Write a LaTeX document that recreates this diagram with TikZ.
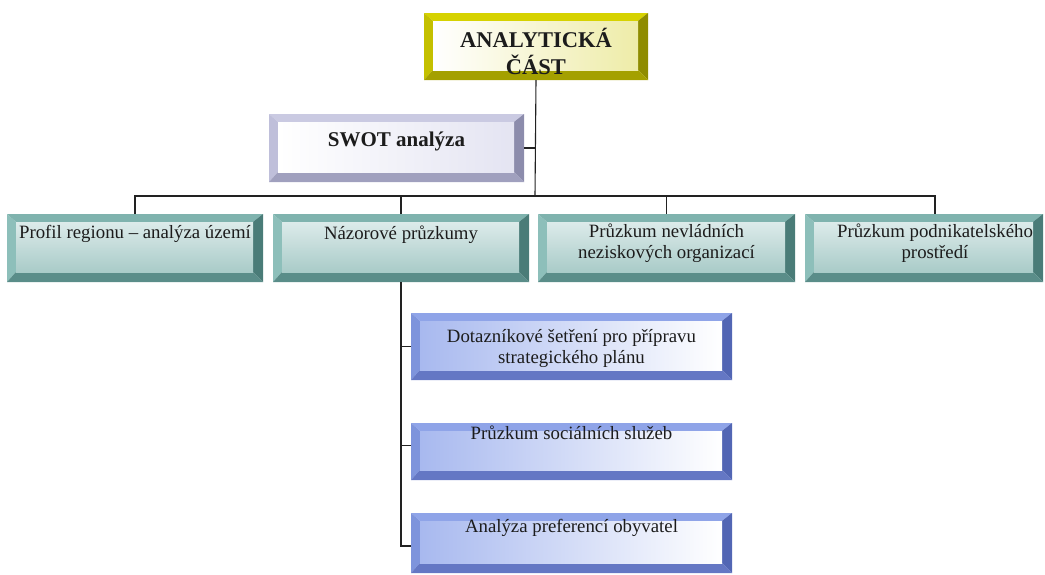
\documentclass[tikz,border=0pt]{standalone}
\usepackage{fontspec}
\setmainfont{Liberation Serif}
\definecolor{yelT}{HTML}{D6D200}
\definecolor{yelL}{HTML}{C4C000}
\definecolor{yelR}{HTML}{8F8C00}
\definecolor{yelB}{HTML}{A4A000}
\definecolor{yelI}{HTML}{EEECA8}
\definecolor{lavT}{HTML}{CACAE2}
\definecolor{lavL}{HTML}{BFBFDA}
\definecolor{lavR}{HTML}{8C8CAC}
\definecolor{lavB}{HTML}{A0A0BE}
\definecolor{lavI}{HTML}{E4E4F2}
\definecolor{tealT}{HTML}{7FB3AE}
\definecolor{tealL}{HTML}{8DBFBA}
\definecolor{tealR}{HTML}{4A7C78}
\definecolor{tealB}{HTML}{5A8D89}
\definecolor{tealI}{HTML}{A9CBC8}
\definecolor{tealI2}{HTML}{DCEBEA}
\definecolor{bluT}{HTML}{8FA4E8}
\definecolor{bluL}{HTML}{7E94DC}
\definecolor{bluR}{HTML}{5266B4}
\definecolor{bluB}{HTML}{6477C4}
\definecolor{bluI}{HTML}{A8B9EF}
\definecolor{ink}{HTML}{1C1C1C}
\definecolor{lineclr}{HTML}{222222}
\newcommand{\bxt}[4]{\parbox[c][#2][t]{#1}{\centering\rule{0pt}{#3}#4}}
\tikzset{
  yelIn/.style={shading=axis, shading angle=135, left color=white, right color=yelI},
  lavIn/.style={shading=axis, shading angle=120, left color=white, right color=lavI},
  tealIn/.style={shading=axis, shading angle=15, top color=tealI2, middle color=white, bottom color=tealI},
  bluIn/.style={shading=axis, shading angle=-30, left color=bluI, right color=white},
  bev/.style={inner sep=0pt, outer sep=0pt, text=ink,
    path picture={
      \coordinate (bvSW) at (path picture bounding box.south west);
      \coordinate (bvNE) at (path picture bounding box.north east);
      \coordinate (bvNW) at (path picture bounding box.north west);
      \coordinate (bvSE) at (path picture bounding box.south east);
      \coordinate (bvsw) at ([xshift=9pt,yshift=10pt]bvSW);
      \coordinate (bvne) at ([xshift=-10pt,yshift=-8pt]bvNE);
      \coordinate (bvnw) at ([xshift=9pt,yshift=-8pt]bvNW);
      \coordinate (bvse) at ([xshift=-10pt,yshift=10pt]bvSE);
      \fill[#1T] (bvNW) -- (bvNE) -- (bvne) -- (bvnw) -- cycle;
      \fill[#1L] (bvNW) -- (bvnw) -- (bvsw) -- (bvSW) -- cycle;
      \fill[#1R] (bvNE) -- (bvSE) -- (bvse) -- (bvne) -- cycle;
      \fill[#1B] (bvSW) -- (bvsw) -- (bvse) -- (bvSE) -- cycle;
      \shade[#1In] (bvsw) rectangle (bvne);
    }},
  conn/.style={draw=lineclr, line width=1.1pt},
  nfont/.style={font=\fontsize{18.8}{21}\selectfont},
}
\begin{document}
\begin{tikzpicture}[x=1pt,y=1pt]
\useasboundingbox (0,0) rectangle (1045,-574);
\node[bev=yel, font=\fontsize{22.5}{27}\selectfont\bfseries] (top) at (536,-46.5)
  {\bxt{224pt}{67pt}{34pt}{ANALYTICKÁ\\ČÁST}};
\node[bev=lav, font=\fontsize{21}{24}\selectfont\bfseries] (swot) at (396.5,-148)
  {\bxt{255pt}{68pt}{32pt}{SWOT analýza}};
\node[bev=teal, nfont] (profile) at (135,-248)
  {\bxt{256pt}{68pt}{24pt}{Profil regionu – analýza území}};
\node[bev=teal, nfont] (nazor) at (401,-248)
  {\bxt{256pt}{68pt}{25pt}{Názorové průzkumy}};
\node[bev=teal, nfont] (nevlad) at (666.5,-248)
  {\bxt{257pt}{68pt}{23pt}{Průzkum nevládních\\neziskových organizací}};
\node[bev=teal, nfont] (podnik) at (924,-248)
  {\parbox[c][68pt][t]{238pt}{\centering\leftskip=22pt plus 1fil\rule{0pt}{23pt}Průzkum podnikatelského\\prostředí}};
\node[bev=blu, nfont] (dot) at (571.5,-346.5)
  {\bxt{321pt}{67pt}{29pt}{Dotazníkové šetření pro přípravu\\strategického plánu}};
\node[bev=blu, nfont] (soc) at (571.5,-451.5)
  {\bxt{321pt}{57pt}{16pt}{Průzkum sociálních služeb}};
\node[bev=blu, nfont] (anl) at (571.5,-543)
  {\bxt{321pt}{60pt}{19pt}{Analýza preferencí obyvatel}};
\coordinate (j) at (535,-196);
\draw[conn] (top.south) -- (j);
\draw[conn] (swot.east) -- (swot.east -| j);
\draw[conn] (profile.north) |- (j) -| ([xshift=11pt]podnik.north);
\draw[conn] (nazor.north) -- (nazor.north |- j);
\draw[conn] (nevlad.north) -- (nevlad.north |- j);
\draw[conn] (nazor.south) |- ([yshift=-3pt]anl.west);
\draw[conn] (dot.west) -- (dot.west -| nazor.south);
\draw[conn] ([yshift=6pt]soc.west) -- ([yshift=6pt]soc.west -| nazor.south);
\end{tikzpicture}
\end{document}
